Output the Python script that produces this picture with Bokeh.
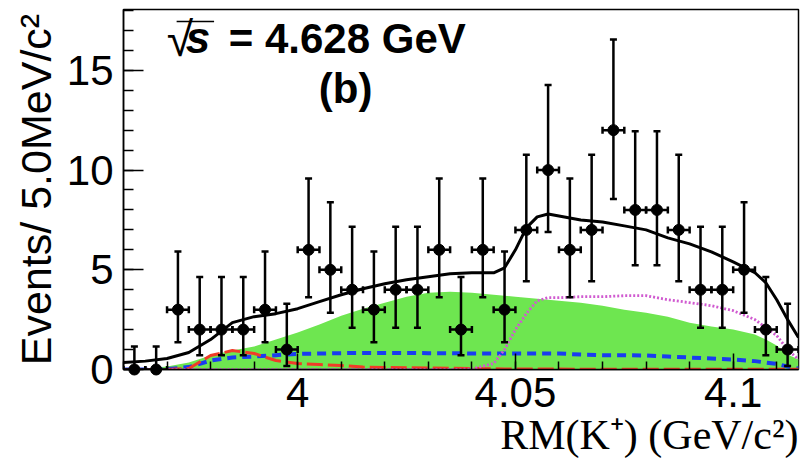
from bokeh.plotting import figure
from bokeh.models import (ColumnDataSource, Range1d, FixedTicker, Whisker, TeeHead,
                          Label, Title)
from bokeh.embed import file_html
from bokeh.resources import INLINE

# --- measured events per 5 MeV/c^2 bin ---
bin_centers = [round(3.9625 + 0.005 * i, 4) for i in range(31)]
counts = [0, 0, 3, 2, 2, 2, 3, 1, 6, 5, 4, 3, 4, 4, 6, 2, 6, 3, 7, 10,
          6, 7, 12, 8, 8, 7, 4, 4, 5, 2, 1]
# lower / upper ends of the Poisson error bars
bar_low = [0, 0, 1.37, 0.71, 0.71, 0.71, 1.37, 0.17, 3.62, 2.84, 2.09, 1.37,
           2.09, 2.09, 3.62, 0.71, 3.62, 1.37, 4.42, 6.89, 3.62, 4.42, 8.55,
           5.23, 5.23, 4.42, 2.09, 2.09, 2.84, 0.71, 0.17]
bar_high = [1.15, 1.15, 5.92, 4.64, 4.64, 4.64, 5.92, 3.30, 9.58, 8.38, 7.16,
            5.92, 7.16, 7.16, 9.58, 4.64, 9.58, 5.92, 10.77, 14.27, 9.58, 10.77,
            16.55, 11.95, 11.95, 10.77, 7.16, 7.16, 8.38, 4.64, 3.30]
half_bin = 0.0025

# --- fit components ---
curve_x = [3.960, 3.965, 3.970, 3.975, 3.980, 3.985, 3.990, 3.995, 4.000,
           4.005, 4.010, 4.015, 4.020, 4.025, 4.030, 4.035, 4.040, 4.045,
           4.0475, 4.050, 4.0525, 4.055, 4.0575, 4.060, 4.065, 4.070, 4.075,
           4.080, 4.085, 4.090, 4.095, 4.100, 4.105, 4.1075, 4.110, 4.1125, 4.115]
total_fit = [0.35, 0.42, 0.55, 0.85, 1.5, 2.35, 2.65, 2.8, 3.05,
             3.4, 3.75, 4.05, 4.3, 4.5, 4.65, 4.8, 4.85, 4.85,
             5.1, 6.0, 7.1, 7.65, 7.8, 7.7, 7.5, 7.4, 7.2,
             7.0, 6.6, 6.3, 5.9, 5.4, 4.85, 4.35, 3.5, 2.5, 1.6]
combinatorial_bkg = [0.0, 0.05, 0.15, 0.35, 0.7, 0.95, 1.15, 1.5, 1.85,
                     2.25, 2.7, 3.05, 3.35, 3.65, 3.85, 3.9, 3.85, 3.75,
                     3.7, 3.65, 3.6, 3.55, 3.5, 3.45, 3.35, 3.2, 3.0,
                     2.85, 2.65, 2.35, 2.15, 2.0, 1.75, 1.5, 1.2, 0.75, 0.5]
blue_component = [0.0, 0.0, 0.02, 0.12, 0.45, 0.6, 0.65, 0.72, 0.78,
                  0.8, 0.82, 0.83, 0.83, 0.83, 0.82, 0.82, 0.8, 0.8,
                  0.8, 0.8, 0.8, 0.8, 0.8, 0.8, 0.75, 0.72, 0.72,
                  0.7, 0.65, 0.6, 0.55, 0.5, 0.42, 0.35, 0.28, 0.15, 0.05]
red_component = [0.0, 0.0, 0.0, 0.05, 0.7, 0.95, 0.8, 0.45, 0.3,
                 0.25, 0.2, 0.12, 0.1, 0.09, 0.08, 0.06, 0.05, 0.04,
                 0.03, 0.03, 0.02, 0.02, 0.02, 0.02, 0.01, 0.01, 0.01,
                 0.01, 0.01, 0.01, 0.01, 0.01, 0.01, 0.01, 0.01, 0.01, 0.01]
magenta_component = [0.0, 0.0, 0.0, 0.0, 0.0, 0.0, 0.0, 0.0, 0.0,
                     0.0, 0.0, 0.0, 0.0, 0.0, 0.0, 0.0, 0.02, 0.3,
                     1.0, 2.0, 2.8, 3.45, 3.6, 3.6, 3.65, 3.65, 3.7,
                     3.7, 3.5, 3.35, 3.2, 2.95, 2.5, 2.1, 1.7, 1.0, 0.5]

x_major = [4.0, 4.05, 4.1]
x_major_labels = {4.0: "4", 4.05: "4.05", 4.1: "4.1"}
y_major = [0, 5, 10, 15]

SANS = "Liberation Sans"
X_TITLE = "RM(K⁺) (GeV/c²)"

p = figure(width=800, height=465, output_backend="svg", toolbar_location=None,
           x_range=Range1d(3.96, 4.115), y_range=Range1d(0, 18.05),
           min_border_left=123, min_border_right=2, min_border_top=9,
           min_border_bottom=96)
p.background_fill_color = "white"
p.border_fill_color = "white"
p.outline_line_color = "black"
p.outline_line_width = 1.5
p.xgrid.visible = False
p.ygrid.visible = False

# axes: ticks drawn inside the frame
p.xaxis.ticker = FixedTicker(ticks=x_major,
                             minor_ticks=[round(3.96 + 0.01 * i, 2) for i in range(16)])
p.xaxis.major_label_overrides = x_major_labels
p.yaxis.ticker = FixedTicker(ticks=y_major, minor_ticks=list(range(0, 19)))
for ax in (p.xaxis[0], p.yaxis[0]):
    ax.major_tick_out = 0
    ax.minor_tick_out = 0
    ax.axis_line_width = 1.5
    ax.major_tick_line_width = 1.5
    ax.minor_tick_line_width = 1.5
    ax.major_label_text_font = SANS
    ax.major_label_text_font_size = "42px"
    ax.major_label_text_color = "black"
p.xaxis.major_tick_in = 16
p.xaxis.minor_tick_in = 8
p.yaxis.major_tick_in = 20
p.yaxis.minor_tick_in = 10
p.xaxis.major_label_standoff = 8
p.yaxis.major_label_standoff = 10

p.yaxis.axis_label = "Events/ 5.0MeV/c²"
p.yaxis.axis_label_text_font = SANS
p.yaxis.axis_label_text_font_style = "normal"
p.yaxis.axis_label_text_font_size = "43px"
p.yaxis.axis_label_text_color = "black"
p.yaxis.axis_label_standoff = 4

# x-axis title, right-aligned below the tick labels
p.add_layout(Title(text=X_TITLE, align="right", text_font="Liberation Serif",
                   text_font_size="42px", text_font_style="normal",
                   text_color="black", standoff=0, offset=0), "below")

# fit components
p.varea(x=curve_x, y1=[0] * len(curve_x), y2=combinatorial_bkg,
        fill_color="#6ee650")
p.line(curve_x, blue_component, line_color="#1a3cf0", line_width=4,
       line_dash="9 6")
p.line(curve_x, red_component, line_color="#f03c28", line_width=3,
       line_dash="16 5")
p.line(curve_x, magenta_component, line_color="#d05ad0", line_width=2.8,
       line_dash="2 2")
p.line(curve_x, total_fit, line_color="black", line_width=3)

# data points with error bars
src = ColumnDataSource(dict(
    x=bin_centers, y=counts, lo=bar_low, hi=bar_high,
    xl=[c - half_bin for c in bin_centers],
    xr=[c + half_bin for c in bin_centers],
))


def tee():
    return TeeHead(size=7, line_width=2.5, line_color="black")


p.add_layout(Whisker(source=src, base="x", lower="lo", upper="hi",
                     line_width=2.5, line_color="black", level="overlay",
                     upper_head=tee(), lower_head=tee()))
p.add_layout(Whisker(source=src, base="y", lower="xl", upper="xr",
                     dimension="width", line_width=2.5, line_color="black",
                     level="overlay", upper_head=tee(), lower_head=tee()))
p.scatter("x", "y", source=src, size=11, color="black", level="overlay")

# energy annotation
p.add_layout(Label(x=3.96995, y=15.2, text="√", text_font=SANS,
                   text_font_size="48px", text_color="black"))
p.segment(x0=[3.9722], y0=[17.45], x1=[3.9808], y1=[17.45],
          line_color="black", line_width=1.5)
p.add_layout(Label(x=3.97431, y=15.4, text="s", text_font=SANS,
                   text_font_size="44px", text_font_style="bold italic",
                   text_color="black"))
p.add_layout(Label(x=3.98417, y=15.4, text="= 4.628 GeV", text_font=SANS,
                   text_font_size="42px", text_font_style="bold",
                   text_color="black"))
p.add_layout(Label(x=4.0110, y=12.9, text="(b)", text_font=SANS,
                   text_font_size="42px", text_font_style="bold",
                   text_align="center", text_color="black"))

open("out.html", "w").write(file_html(p, INLINE))
